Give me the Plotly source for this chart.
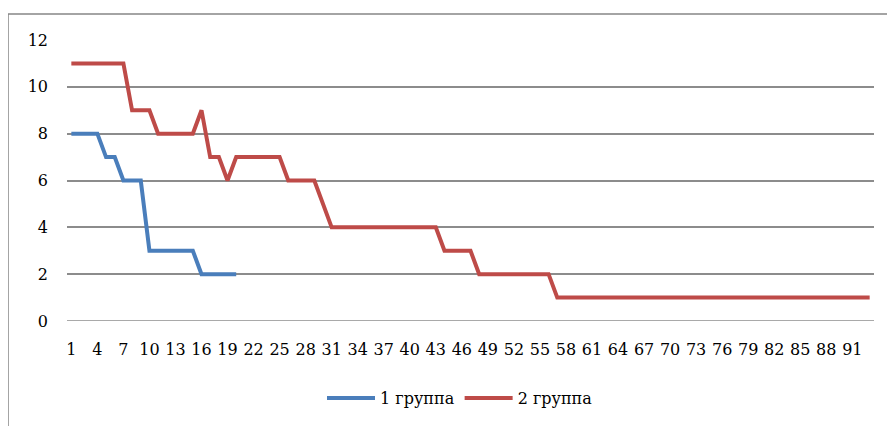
import plotly.graph_objects as go

categories = list(range(1, 94))
group1 = [8, 8, 8, 8, 7, 7, 6, 6, 6, 3, 3, 3, 3, 3, 3, 2, 2, 2, 2, 2]
group2 = ([11] * 7 + [9] * 3 + [8] * 5 + [9] + [7] * 2 + [6] + [7] * 6 + [6] * 4 + [5]
          + [4] * 13 + [3] * 4 + [2] * 9 + [1] * 37)
series_names = ["1 группа", "2 группа"]
y_ticks = [0, 2, 4, 6, 8, 10, 12]

# the page has an 8px body margin: the figure's origin sits at page (8, 8)
OFF = 8
W, H = 895 - OFF, 426 - OFF
PL, PR, PT, PB = 67, 874, 40, 321          # plot area in page pixels
L, T = PL - OFF, PT - OFF
R, B = W - (PR - OFF), H - (PB - OFF)
pw, ph = W - L - R, H - T - B

def px(x):
    return (x - PL) / pw

def py(y):
    return (PB - y) / ph

fig = go.Figure()
fig.add_trace(go.Scatter(x=categories[:len(group1)], y=group1, mode="lines", name=series_names[0],
                         line=dict(color="#4A7EBB", width=4)))
fig.add_trace(go.Scatter(x=categories[:len(group2)], y=group2, mode="lines", name=series_names[1],
                         line=dict(color="#BE4B48", width=4)))

font = dict(family="DejaVu Serif", size=16, color="#000000")
grid_col = "#8C8C8C"

fig.update_layout(
    template="none",
    width=W, height=H,
    margin=dict(l=L, r=R, t=T, b=B, autoexpand=False),
    paper_bgcolor="white", plot_bgcolor="white",
    font=font,
    showlegend=True,
    legend=dict(orientation="h", x=px(460), xanchor="center", y=py(398), yanchor="middle",
                font=font, itemwidth=48, tracegroupgap=0, bgcolor="rgba(0,0,0,0)"),
    xaxis=dict(range=[0.5, 93.5], tickmode="array", tickvals=categories[::3],
               ticktext=[str(c) for c in categories[::3]], automargin=False,
               showgrid=False, zeroline=False, showline=False, ticks="",
               ticklabelstandoff=17, tickfont=font, fixedrange=True),
    yaxis=dict(range=[0, 12], tickvals=y_ticks, showgrid=True, gridcolor=grid_col, gridwidth=1.5,
               zeroline=False, showline=False, ticks="", ticklabelstandoff=18, tickfont=font,
               automargin=False, fixedrange=True),
    shapes=[
        dict(type="line", xref="paper", yref="y", x0=0, x1=1, y0=0, y1=0, layer="below",
             line=dict(color=grid_col, width=1.5)),
        dict(type="line", xref="paper", yref="paper", x0=px(8), x1=px(900), y0=py(14), y1=py(14),
             line=dict(color="#868686", width=1.5)),
        dict(type="line", xref="paper", yref="paper", x0=px(8), x1=px(8), y0=py(14), y1=py(430),
             line=dict(color="#868686", width=1.5)),
    ],
)

fig.write_html("out.html")
